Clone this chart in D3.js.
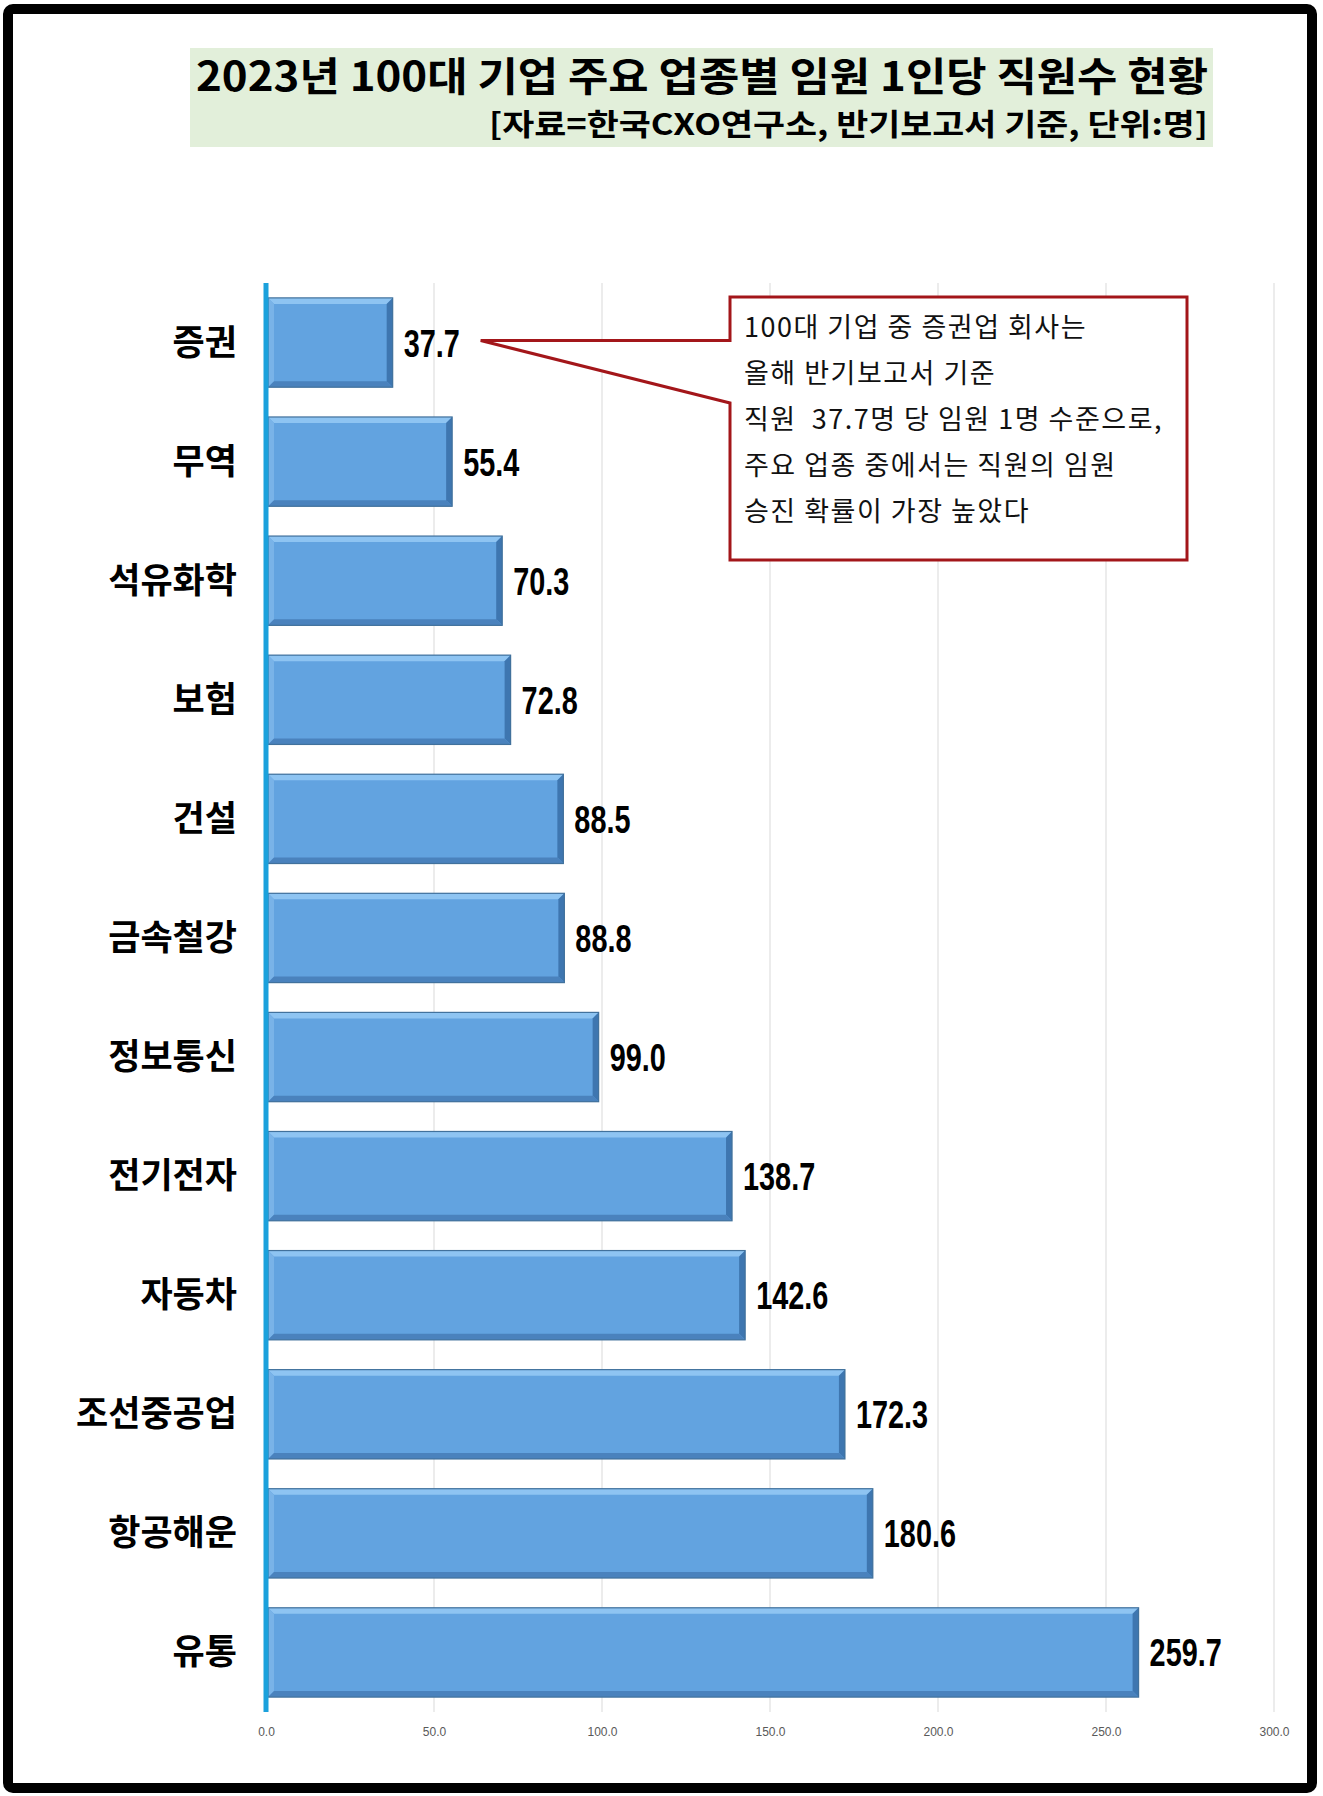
<!DOCTYPE html>
<html>
<head>
<meta charset="utf-8">
<script src="https://cdn.jsdelivr.net/npm/d3@7"></script>
<style>
  body { margin: 0; background: #fff; }
  svg { display: block; }
</style>
</head>
<body>
<svg width="1323" height="1796"></svg>
<script>
const categories = ["증권", "무역", "석유화학", "보험", "건설", "금속철강", "정보통신", "전기전자", "자동차", "조선중공업", "항공해운", "유통"]
const values = [37.7, 55.4, 70.3, 72.8, 88.5, 88.8, 99.0, 138.7, 142.6, 172.3, 180.6, 259.7]
const ticks = [0, 50, 100, 150, 200, 250, 300]
const titleLines = ["2023년 100대 기업 주요 업종별 임원 1인당 직원수 현황", "[자료=한국CXO연구소, 반기보고서 기준, 단위:명]"]
const noteLines = ["100대 기업 중 증권업 회사는", "올해 반기보고서 기준", "직원  37.7명 당 임원 1명 수준으로,", "주요 업종 중에서는 직원의 임원", "승진 확률이 가장 높았다"]

const svg = d3.select("svg")
const KR = "'Noto Sans CJK KR', 'Noto Sans', sans-serif"

svg.append("rect").attr("width", 1323).attr("height", 1796).attr("fill", "#fff")

// outer frame
svg.append("rect")
  .attr("x", 8).attr("y", 9).attr("width", 1304).attr("height", 1779)
  .attr("rx", 5)
  .attr("fill", "none").attr("stroke", "#000").attr("stroke-width", 10)

// title band
svg.append("rect")
  .attr("x", 190).attr("y", 48).attr("width", 1023).attr("height", 99)
  .attr("fill", "#e2efda")

svg.append("text")
  .attr("x", 196).attr("y", 91)
  .attr("textLength", 1012).attr("lengthAdjust", "spacingAndGlyphs")
  .style("font-family", KR).style("font-weight", 700).style("font-size", "40px")
  .attr("fill", "#000")
  .text(titleLines[0])

svg.append("text")
  .attr("x", 489).attr("y", 135)
  .attr("textLength", 719).attr("lengthAdjust", "spacingAndGlyphs")
  .style("font-family", KR).style("font-weight", 700).style("font-size", "30px")
  .attr("fill", "#000")
  .text(titleLines[1])

// scales
let x = d3.scaleLinear().domain([0, 300]).range([266, 1274])
let y = d3.scaleBand().domain(categories).range([283, 1712])
  .paddingInner(0.25).paddingOuter(0.125)

// gridlines
svg.append("g").selectAll("line")
  .data(ticks.slice(1))
  .enter().append("line")
  .attr("x1", d => x(d)).attr("x2", d => x(d))
  .attr("y1", 283).attr("y2", 1712)
  .attr("stroke", "#d9d9d9").attr("stroke-width", 1)

// x axis tick labels
let xAxis = d3.axisBottom(x).tickValues(ticks).tickFormat(d3.format(".1f")).tickSize(0).tickPadding(0)
let ax = svg.append("g").attr("transform", "translate(0,1727)").call(xAxis)
ax.select(".domain").remove()
ax.selectAll("text")
  .style("font-family", "'Liberation Sans Narrow', 'Liberation Sans', sans-serif")
  .style("font-size", "12px").attr("fill", "#595959")

// bars with bevel
const bev = 6
let bars = svg.append("g").selectAll("g.bar")
  .data(categories.map((c, i) => ({ name: c, value: values[i] })))
  .enter().append("g").attr("class", "bar")

bars.each(function (d) {
  let g = d3.select(this)
  let x0 = x(0) + 2, x1 = x(d.value), y0 = y(d.name), y1 = y0 + y.bandwidth()
  g.append("rect")
    .attr("x", x0).attr("y", y0).attr("width", x1 - x0).attr("height", y1 - y0)
    .attr("fill", "#62a3e0")
  let poly = (pts, fill) => g.append("polygon").attr("points", pts.map(p => p.join(",")).join(" ")).attr("fill", fill)
  poly([[x0, y0], [x1, y0], [x1 - bev, y0 + bev], [x0 + bev, y0 + bev]], "#8ec4f2")
  poly([[x0, y0], [x0 + bev, y0 + bev], [x0 + bev, y1 - bev], [x0, y1]], "#79b3e8")
  poly([[x1, y0], [x1, y1], [x1 - bev, y1 - bev], [x1 - bev, y0 + bev]], "#3e76b0")
  poly([[x0, y1], [x0 + bev, y1 - bev], [x1 - bev, y1 - bev], [x1, y1]], "#4a82bd")
  g.append("rect")
    .attr("x", x0).attr("y", y0).attr("width", x1 - x0).attr("height", y1 - y0)
    .attr("fill", "none").attr("stroke", "#41719c").attr("stroke-width", 1.2)
})

// value axis line
svg.append("line")
  .attr("x1", x(0)).attr("x2", x(0))
  .attr("y1", 283).attr("y2", 1712)
  .attr("stroke", "#1ba1dc").attr("stroke-width", 5)

// value labels
bars.append("text")
  .attr("transform", d => "translate(" + (x(d.value) + 11) + "," + (y(d.name) + y.bandwidth() / 2 + 14) + ") scale(0.74,1)")
  .style("font-family", "'Liberation Sans', Arial, sans-serif")
  .style("font-weight", 700).style("font-size", "39px")
  .attr("fill", "#000")
  .text(d => d.value.toFixed(1))

// category labels
svg.append("g").selectAll("text")
  .data(categories)
  .enter().append("text")
  .attr("x", 237)
  .attr("y", d => y(d) + y.bandwidth() / 2 + 12)
  .attr("text-anchor", "end")
  .style("font-family", KR).style("font-weight", 700).style("font-size", "35px")
  .attr("fill", "#000")
  .text(d => d)

// callout box
let tipX = x(values[0]) + 88, tipY = y(categories[0]) + y.bandwidth() / 2 - 2
let bx0 = 730, bx1 = 1187, by0 = 297, by1 = 560
svg.append("path")
  .attr("d", d3.line()([[bx0, by0], [bx1, by0], [bx1, by1], [bx0, by1], [bx0, 403], [tipX, tipY], [bx0, tipY]]) + "Z")
  .attr("fill", "#fff").attr("stroke", "#a3161a").attr("stroke-width", 3)
  .attr("stroke-linejoin", "miter")

svg.append("g").selectAll("text")
  .data(noteLines)
  .enter().append("text")
  .attr("x", 744)
  .attr("y", (d, i) => 337 + i * 46)
  .style("font-family", KR).style("font-weight", 400).style("font-size", "27px")
  .style("letter-spacing", "1.5px")
  .attr("fill", "#111")
  .style("white-space", "pre")
  .attr("xml:space", "preserve")
  .text(d => d)
</script>
</body>
</html>
